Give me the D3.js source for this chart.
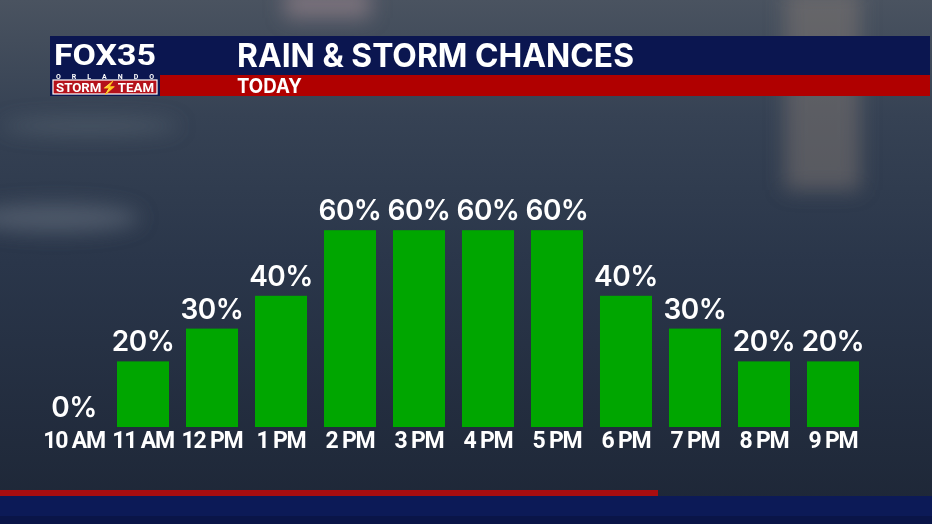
<!DOCTYPE html>
<html>
<head>
<meta charset="utf-8">
<script src="https://cdn.jsdelivr.net/npm/d3@7"></script>
<style>
  body { margin: 0; background: #1f2a3a; }
  svg { display: block; }
</style>
</head>
<body>
<div id="chart"></div>
<script>
// hourly rain chances
const hours = ["10 AM", "11 AM", "12 PM", "1 PM", "2 PM", "3 PM", "4 PM", "5 PM", "6 PM", "7 PM", "8 PM", "9 PM"];
const chances = [0, 20, 30, 40, 60, 60, 60, 60, 40, 30, 20, 20];

const svgWidth = 932;
const svgHeight = 524;

let svg = d3.select("#chart").append("svg")
    .attr("width", svgWidth)
    .attr("height", svgHeight);

const defs = svg.append("defs");

// wet-road background
let bg = defs.append("linearGradient").attr("id", "bg").attr("x1", 0).attr("y1", 0).attr("x2", 0).attr("y2", 1);
bg.append("stop").attr("offset", "0%").attr("stop-color", "#4a5360");
bg.append("stop").attr("offset", "22%").attr("stop-color", "#364254");
bg.append("stop").attr("offset", "50%").attr("stop-color", "#2a364a");
bg.append("stop").attr("offset", "100%").attr("stop-color", "#1d2636");

defs.append("filter").attr("id", "blur")
    .append("feGaussianBlur").attr("stdDeviation", 10);

svg.append("rect").attr("width", svgWidth).attr("height", svgHeight).attr("fill", "url(#bg)");

// soft reflections
let glow = svg.append("g").attr("filter", "url(#blur)");
glow.append("rect").attr("x", 785).attr("y", -10).attr("width", 75).attr("height", 200).attr("fill", "#8a7f78").attr("opacity", 0.45);
glow.append("rect").attr("x", 285).attr("y", -10).attr("width", 85).attr("height", 28).attr("fill", "#b79aa0").attr("opacity", 0.45);
glow.append("ellipse").attr("cx", 55).attr("cy", 218).attr("rx", 85).attr("ry", 14).attr("fill", "#76808d").attr("opacity", 0.45);
glow.append("ellipse").attr("cx", 90).attr("cy", 126).attr("rx", 90).attr("ry", 8).attr("fill", "#76808d").attr("opacity", 0.35);

// header
svg.append("rect").attr("x", 50).attr("y", 36).attr("width", 880).attr("height", 39).attr("fill", "#0b1650");
svg.append("rect").attr("x", 160).attr("y", 75).attr("width", 770).attr("height", 21).attr("fill", "#b00000");
svg.append("rect").attr("x", 50).attr("y", 36).attr("width", 110).attr("height", 60).attr("fill", "#0b1650");

svg.append("text").attr("x", 237).attr("y", 67)
    .attr("font-family", "Inter, 'Open Sans', sans-serif").attr("font-weight", 700)
    .attr("font-size", 33).attr("fill", "#fff")
    .attr("textLength", 397).attr("lengthAdjust", "spacingAndGlyphs")
    .text("RAIN & STORM CHANCES");
svg.append("text").attr("x", 237).attr("y", 93)
    .attr("font-family", "Inter, 'Open Sans', sans-serif").attr("font-weight", 700)
    .attr("font-size", 20).attr("fill", "#fff")
    .attr("textLength", 65).attr("lengthAdjust", "spacingAndGlyphs")
    .text("TODAY");

// logo
let logo = svg.append("g").attr("font-family", "'Liberation Sans Narrow', Roboto, sans-serif").attr("font-weight", 700).attr("fill", "#fff");
logo.append("text").attr("x", 105).attr("y", 65).attr("text-anchor", "middle")
    .attr("font-size", 29).attr("textLength", 102).attr("lengthAdjust", "spacingAndGlyphs")
    .text("FOX35");
logo.append("text").attr("x", 105).attr("y", 79).attr("text-anchor", "middle")
    .attr("font-size", 7).attr("textLength", 98).attr("lengthAdjust", "spacing")
    .text("ORLANDO");
logo.append("rect").attr("x", 53).attr("y", 80).attr("width", 104).attr("height", 14)
    .attr("fill", "#b5121b").attr("stroke", "#fff").attr("stroke-width", 1.2);
logo.append("text").attr("x", 105).attr("y", 92).attr("text-anchor", "middle")
    .attr("font-size", 13).attr("textLength", 98).attr("lengthAdjust", "spacingAndGlyphs")
    .text("STORM\u26A1TEAM");

// bottom bars
svg.append("rect").attr("x", 0).attr("y", 490).attr("width", 658).attr("height", 6).attr("fill", "#a80d10");
svg.append("rect").attr("x", 0).attr("y", 496).attr("width", svgWidth).attr("height", 28).attr("fill", "#0c1a57");
svg.append("rect").attr("x", 0).attr("y", 516).attr("width", svgWidth).attr("height", 8).attr("fill", "#0a1548");

// scales
let x = d3.scaleBand()
    .domain(hours)
    .range([48, 859])
    .paddingInner(0.246)
    .paddingOuter(0);

let y = d3.scaleLinear()
    .domain([0, 100])
    .range([427, 99]);

let chartGroup = svg.append("g");

chartGroup.selectAll("rect.bar")
    .data(chances)
    .enter()
    .append("rect")
        .attr("class", "bar")
        .attr("x", (d, i) => x(hours[i]))
        .attr("y", d => y(d))
        .attr("width", x.bandwidth())
        .attr("height", d => y(0) - y(d))
        .attr("fill", "#00a600");

chartGroup.selectAll("text.val")
    .data(chances)
    .enter()
    .append("text")
        .attr("class", "val")
        .attr("x", (d, i) => x(hours[i]) + x.bandwidth() / 2)
        .attr("y", d => y(d) - 10)
        .attr("text-anchor", "middle")
        .attr("font-family", "Inter, 'Open Sans', sans-serif")
        .attr("font-weight", 600)
        .attr("font-size", 28)
        .attr("fill", "#fff")
        .style("letter-spacing", "-0.5px")
        .text(d => d + "%");

// hour labels
let xAxis = chartGroup.append("g")
    .attr("transform", "translate(0,427)")
    .call(d3.axisBottom(x).tickSize(0).tickPadding(0));
xAxis.select(".domain").remove();
xAxis.selectAll("text")
    .attr("y", 21)
    .attr("dy", 0)
    .attr("font-family", "'Liberation Sans Narrow', Roboto, sans-serif")
    .attr("font-size", 23)
    .attr("font-weight", 700)
    .attr("fill", "#fff")
    .style("letter-spacing", "-1.2px");
</script>
</body>
</html>
